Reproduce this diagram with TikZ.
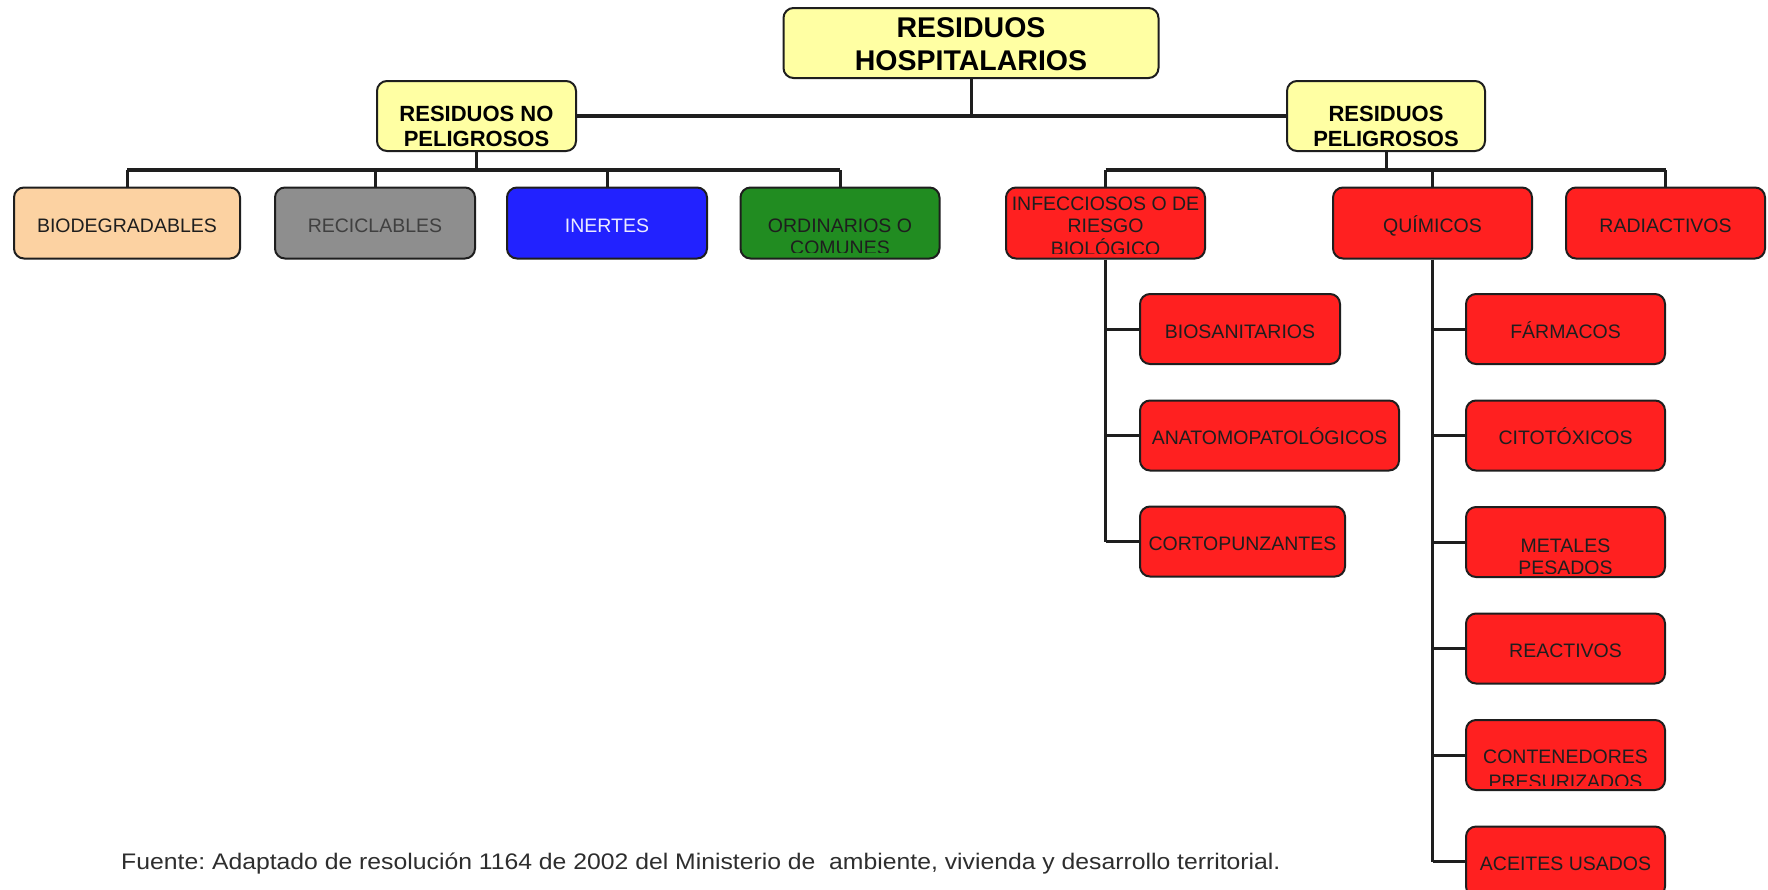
\documentclass[tikz,border=0pt]{standalone}
\usepackage{fontspec}
\setmainfont{Liberation Sans}
\definecolor{ylw}{RGB}{255,255,163}
\definecolor{peach}{RGB}{252,210,162}
\definecolor{gry}{RGB}{142,142,142}
\definecolor{blu}{RGB}{34,34,255}
\definecolor{grn}{RGB}{33,140,33}
\definecolor{rd}{RGB}{255,32,32}
\definecolor{ink}{RGB}{30,30,30}
\tikzset{
  box/.style={draw=ink, line width=2pt, rounded corners=10pt, minimum height=71pt,
    inner sep=0pt, text height=18pt, text depth=0pt,
    font=\fontsize{19.5}{23}\selectfont, text=ink},
  lbl/.style={inner sep=0pt, anchor=base, font=\fontsize{19.5}{23}\selectfont, text=ink},
  hdr/.style={inner sep=0pt, anchor=base, font=\fontsize{22}{24}\selectfont\bfseries, text=black},
  ttl/.style={inner sep=0pt, anchor=base, font=\fontsize{28.5}{30}\selectfont\bfseries, text=black},
  conn/.style={line width=3pt, draw=ink},
  bus/.style={line width=4.5pt, draw=ink},
}
\begin{document}
\frenchspacing
\begin{tikzpicture}[x=1pt,y=-1pt]
\useasboundingbox (0,0) rectangle (1768,889);
\fill[white] (0,0) rectangle (1768,889);

% top level
\node[box, fill=ylw, minimum width=375pt, minimum height=70pt] (top) at (971,43) {};
\node[ttl] (top1) at ([yshift=-30.3]top.north) {RESIDUOS};
\node[ttl] (top2) at ([yshift=-63.7]top.north) {HOSPITALARIOS};

% second level
\node[box, fill=ylw, minimum width=199pt, minimum height=70pt] (nop) at (476.5,116) {};
\node[hdr] (nop1) at ([yshift=-41.5]nop.north) {RESIDUOS NO};
\node[hdr] (nop2) at ([yshift=-66]nop.north) {PELIGROSOS};
\node[box, fill=ylw, minimum width=198pt, minimum height=70pt] (pel) at (1386,116) {};
\node[hdr] (pel1) at ([yshift=-41.5]pel.north) {RESIDUOS};
\node[hdr] (pel2) at ([yshift=-66]pel.north) {PELIGROSOS};

% third level
\node[box, fill=peach, minimum width=226pt] (bio) at (127,223) {BIODEGRADABLES};
\node[box, fill=gry, minimum width=200pt, text=black!75] (rec) at (375,223) {RECICLABLES};
\node[box, fill=blu, minimum width=200pt, text=white!92!blue] (ine) at (607,223) {INERTES};
\node[box, fill=grn, minimum width=199pt] (ord) at (840,223) {};
\node[box, fill=rd, minimum width=199pt] (inf) at (1105.5,223) {};
\node[box, fill=rd, minimum width=199pt] (qui) at (1432.5,223) {QUÍMICOS};
\node[box, fill=rd, minimum width=199pt] (rad) at (1665.5,223) {RADIACTIVOS};

\begin{scope}
  \clip ([yshift=7.5]ord.south west) rectangle (ord.north east);
  \node[lbl] (ord1) at ([yshift=-45.5]ord.north) {ORDINARIOS O};
  \node[lbl] (ord2) at ([yshift=-67.5]ord.north) {COMUNES};
\end{scope}
\begin{scope}
  \clip ([yshift=6]inf.south west) rectangle (inf.north east);
  \node[lbl] (inf1) at ([yshift=-23.5]inf.north) {INFECCIOSOS O DE};
  \node[lbl] (inf2) at ([yshift=-46]inf.north) {RIESGO};
  \node[lbl] (inf3) at ([yshift=-69]inf.north) {BIOLÓGICO};
\end{scope}

% children of infecciosos
\node[box, fill=rd, minimum width=200pt, minimum height=70pt] (bios) at (1240,329) {BIOSANITARIOS};
\node[box, fill=rd, minimum width=259pt, minimum height=70pt] (anat) at (1269.5,435.5) {ANATOMOPATOLÓGICOS};
\node[box, fill=rd, minimum width=205pt, minimum height=70pt] (cort) at (1242.5,541.5) {CORTOPUNZANTES};

% children of quimicos
\node[box, fill=rd, minimum width=199pt, minimum height=70pt] (far) at (1565.5,329) {FÁRMACOS};
\node[box, fill=rd, minimum width=199pt, minimum height=70pt] (cito) at (1565.5,435.5) {CITOTÓXICOS};
\node[box, fill=rd, minimum width=199pt, minimum height=70pt] (meta) at (1565.5,542) {};
\node[box, fill=rd, minimum width=199pt, minimum height=70pt] (reac) at (1565.5,648.5) {REACTIVOS};
\node[box, fill=rd, minimum width=199pt, minimum height=70pt] (cont) at (1565.5,755) {};
\node[box, fill=rd, minimum width=199pt, minimum height=70pt] (acei) at (1565.5,861.5) {ACEITES USADOS};

\begin{scope}
  \clip ([yshift=4.5]meta.south west) rectangle (meta.north east);
  \node[lbl] (meta1) at ([yshift=-46.5]meta.north) {METALES};
  \node[lbl] (meta2) at ([yshift=-68.5]meta.north) {PESADOS};
\end{scope}
\begin{scope}
  \clip ([yshift=6]cont.south west) rectangle (cont.north east);
  \node[lbl] (cont1) at ([yshift=-44.5]cont.north) {CONTENEDORES};
  \node[lbl] (cont2) at ([yshift=-69]cont.north) {PRESURIZADOS};
\end{scope}

% connectors: top
\draw[bus] (nop.east) -- (pel.west);
\draw[conn] (top.south) -- (top.south |- nop.east);

% left bus
\coordinate (lb) at (476.5,170);
\draw[conn] (nop.south) -- (lb);
\draw[bus] (bio.north |- lb) -- (ord.north |- lb);
\foreach \n in {bio,rec,ine,ord} \draw[conn] (\n.north |- lb) -- (\n.north);

% right bus
\coordinate (rb) at (1386,170);
\draw[conn] (pel.south) -- (rb);
\draw[bus] (inf.north |- rb) -- (rad.north |- rb);
\foreach \n in {inf,qui,rad} \draw[conn] (\n.north |- rb) -- (\n.north);

% trunks
\draw[conn] (inf.south) -- (inf.south |- cort.west);
\foreach \n in {bios,anat,cort} \draw[conn] (inf.south |- \n.west) -- (\n.west);
\draw[conn] (qui.south) -- (qui.south |- acei.west);
\foreach \n in {far,cito,meta,reac,cont,acei} \draw[conn] (qui.south |- \n.west) -- (\n.west);

% source
\node[inner sep=0pt, anchor=base west, xscale=1.1, font=\fontsize{22.5}{24}\selectfont, text=black!82] (src) at (121,869)
  {Fuente: Adaptado de resolución 1164 de 2002 del Ministerio de\ \ ambiente, vivienda y desarrollo territorial.};
\end{tikzpicture}
\end{document}
